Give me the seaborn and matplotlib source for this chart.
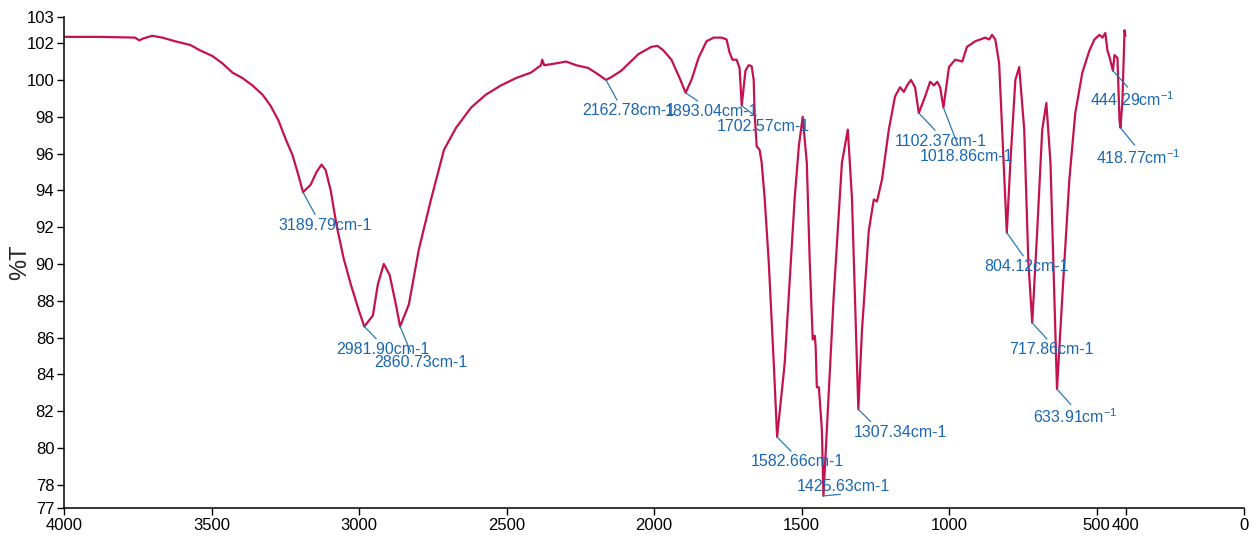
import matplotlib
matplotlib.use("Agg")
import matplotlib.pyplot as plt
import numpy as np
import pandas as pd
import seaborn as sns

# ---------------- data ----------------
wavenumber = [
    4000, 3878, 3759, 3745, 3732, 3701, 3667, 3623, 3572, 3538, 3497, 3463, 3429, 3395,
    3361, 3327, 3300, 3273, 3249, 3225, 3205, 3189.79, 3164, 3144, 3127, 3113, 3096, 3076,
    3052, 3028, 3001, 2981.90, 2953, 2936, 2916, 2896, 2875, 2860.73, 2831, 2797, 2756, 2712,
    2671, 2620, 2570, 2519, 2468, 2417, 2383, 2379, 2372, 2332, 2298, 2264, 2223, 2189,
    2162.78, 2145, 2111, 2053, 2009, 1988, 1968, 1941, 1913, 1893.04, 1873, 1849, 1822, 1798,
    1771, 1754, 1744, 1734, 1720, 1710, 1702.57, 1690, 1679, 1669, 1662, 1659, 1652, 1642,
    1635, 1625, 1611, 1594, 1582.66, 1557, 1540, 1523, 1509, 1496, 1482, 1472, 1462, 1455,
    1452, 1448, 1441, 1431, 1425.63, 1414, 1391, 1363, 1343, 1329, 1319, 1307.34, 1295, 1272,
    1255, 1244, 1227, 1204, 1183, 1166, 1153, 1142, 1129, 1115, 1102.37, 1081, 1064, 1051,
    1040, 1030, 1018.86, 1000, 979, 955, 939, 911, 877, 864, 854, 843, 830, 820,
    804.12, 792, 775, 762, 745, 731, 717.86, 701, 684, 670, 656, 643, 633.91, 616,
    592, 572, 548, 524, 507, 490, 480, 470, 463, 456, 444.29, 439, 429, 422,
    418.77, 412, 405, 402,
]
transmittance = [
    102.34, 102.34, 102.30, 102.15, 102.25, 102.40, 102.30, 102.10, 101.90, 101.60, 101.30, 100.90, 100.40, 100.10,
    99.70, 99.20, 98.60, 97.80, 96.80, 95.90, 94.80, 93.90, 94.30, 95.00, 95.40, 95.10, 94.00, 92.10,
    90.30, 88.90, 87.50, 86.60, 87.20, 88.90, 90.00, 89.40, 87.80, 86.60, 87.80, 90.80, 93.50, 96.20,
    97.40, 98.50, 99.20, 99.70, 100.10, 100.40, 100.80, 101.10, 100.80, 100.90, 101.00, 100.80, 100.65, 100.30,
    100.00, 100.15, 100.50, 101.40, 101.80, 101.85, 101.60, 101.10, 100.10, 99.30, 100.00, 101.20, 102.10, 102.30,
    102.30, 102.20, 101.50, 101.10, 101.10, 100.65, 98.60, 100.50, 100.80, 100.75, 100.00, 98.20, 96.40, 96.20,
    95.50, 93.60, 90.10, 84.60, 80.60, 84.60, 89.10, 93.60, 96.40, 98.00, 95.50, 90.10, 85.90, 86.10,
    85.50, 83.30, 83.30, 81.00, 77.40, 81.00, 88.20, 95.50, 97.30, 93.60, 88.20, 82.10, 86.40, 91.80,
    93.50, 93.40, 94.60, 97.30, 99.10, 99.60, 99.35, 99.70, 100.00, 99.60, 98.20, 99.10, 99.90, 99.70,
    99.90, 99.60, 98.50, 100.70, 101.10, 101.00, 101.80, 102.10, 102.30, 102.20, 102.45, 102.20, 100.90, 97.30,
    91.70, 95.50, 100.00, 100.70, 97.30, 90.10, 86.80, 91.80, 97.30, 98.75, 95.50, 88.20, 83.20, 88.20,
    94.60, 98.20, 100.40, 101.60, 102.20, 102.45, 102.30, 102.55, 101.60, 101.25, 100.50, 101.35, 101.20, 97.80,
    97.40, 98.90, 102.70, 102.40,
]

peak_wavenumbers = [3189.79, 2981.90, 2860.73, 2162.78, 1893.04, 1702.57, 1582.66, 1425.63,
                    1307.34, 1102.37, 1018.86, 804.12, 717.86, 633.91, 444.29, 418.77]
peak_labels = ["3189.79cm-1", "2981.90cm-1", "2860.73cm-1", "2162.78cm-1", "1893.04cm-1",
               "1702.57cm-1", "1582.66cm-1", "1425.63cm-1", "1307.34cm-1", "1102.37cm-1",
               "1018.86cm-1", "804.12cm-1", "717.86cm-1", "633.91cm$^{-1}$",
               "444.29cm$^{-1}$", "418.77cm$^{-1}$"]

x_ticks = [4000, 3500, 3000, 2500, 2000, 1500, 1000, 500, 400, 0]
x_tick_labels = ["4000", "3500", "3000", "2500", "2000", "1500", "1000", "500", "400", "0"]
y_tick_labels = ["77", "78", "80", "82", "84", "86", "88", "90", "92", "94", "96", "98",
                 "100", "102", "103"]

# ---------------- layout / style ----------------
# label offsets in pixels (dx, dy) of text left-centre from the peak, and leader anchor on text
label_layout = [
    (-25, -33, 0.42, 0.95), (-28, -23, 0.47, 0.95), (-26, -36, 0.41, 0.95),
    (-24, -31, 0.40, 0.95), (-21, -19, 0.42, 0.95), (-25, -21, 0.47, 0.95),
    (-26, -25, 0.47, 0.95), (-27, 9, 0.47, 0.0), (-5, -23, 0.23, 0.95),
    (-24, -28, 0.48, 0.95), (-24, -49, 0.43, 0.95), (-23, -34, 0.50, 0.95),
    (-23, -27, 0.49, 0.95), (-24, -28, 0.50, 0.90), (-23, -29, 0.50, 0.90),
    (-24, -30, 0.50, 0.90),
]

sns.set_style("ticks")
plt.rcParams["font.family"] = ["Liberation Sans", "DejaVu Sans"]
plt.rcParams["mathtext.fontset"] = "custom"
plt.rcParams["mathtext.rm"] = "Liberation Sans"
plt.rcParams["mathtext.default"] = "regular"

LINE_COLOR = "#c3124f"
TEXT_BLUE = "#1a67b3"
LEADER_BLUE = "#2a78b6"

fig = plt.figure(figsize=(12.6, 5.39), dpi=100)
ax = fig.add_axes([64 / 1260, 1 - 508 / 539, 1180 / 1260, 491 / 539])

df = pd.DataFrame({"wavenumber": wavenumber, "T": transmittance})
sns.lineplot(data=df, x="wavenumber", y="T", sort=False, estimator=None,
             color=LINE_COLOR, linewidth=1.6, ax=ax)

y_lo, y_hi = 76.74, 103.42
ax.set_xlim(4000, 0)
ax.set_ylim(y_lo, y_hi)
ax.set_xticks(x_ticks)
ax.set_xticklabels(x_tick_labels)
y_tick_pos = [y_lo] + list(range(78, 103, 2)) + [y_hi]
ax.set_yticks(y_tick_pos)
ax.set_yticklabels(y_tick_labels)

ax.tick_params(axis="both", direction="out", length=5, width=1, labelsize=12,
               colors="black", pad=2)
for s in ("top", "right"):
    ax.spines[s].set_visible(False)
for s in ("left", "bottom"):
    ax.spines[s].set_linewidth(1.1)
    ax.spines[s].set_color("black")

ax.set_xlabel("")
ax.set_ylabel("%T", fontsize=17)
ax.yaxis.set_label_coords(-0.028, 0.5)

lookup = dict(zip(wavenumber, transmittance))
for wn, lab, (dx, dy, rx, ry) in zip(peak_wavenumbers, peak_labels, label_layout):
    ax.annotate(lab, xy=(wn, lookup[wn]), xytext=(dx, dy), textcoords="offset pixels",
                ha="left", va="center", fontsize=11.5, color=TEXT_BLUE,
                arrowprops=dict(arrowstyle="-", color=LEADER_BLUE, lw=0.9,
                                shrinkA=0, shrinkB=0, relpos=(rx, ry)))

fig.savefig("out.png", dpi=100)
